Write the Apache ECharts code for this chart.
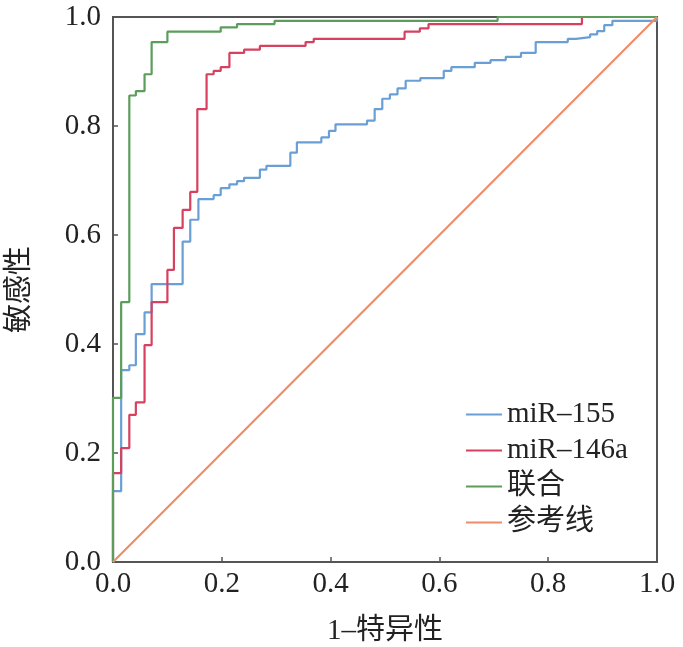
<!DOCTYPE html>
<html>
<head>
<meta charset="utf-8">
<script src="https://cdn.jsdelivr.net/npm/echarts@6/dist/echarts.min.js"></script>
<style>
        html, body { margin: 0; padding: 0; background: #fff; }
        #roc { width: 683px; height: 647px; }
</style>
</head>
<body>
<div id="roc"></div>
<script>
// ROC 曲线数据：每个点是竖直上升段的顶端 (1-特异性, 敏感性)
var seriesNames = ['miR–155', 'miR–146a', '联合', '参考线'];

var mir155X = [0, 0, 0.015, 0.030, 0.042, 0.058, 0.071, 0.128, 0.142, 0.157, 0.185, 0.198, 0.214, 0.228, 0.241, 0.270, 0.282, 0.326, 0.338, 0.383, 0.397, 0.409, 0.467, 0.481, 0.495, 0.509, 0.523, 0.538, 0.565, 0.608, 0.622, 0.665, 0.694, 0.722, 0.750, 0.777, 0.836, 0.851, 0.877, 0.890, 0.903, 0.918, 1];
var mir155Y = [0, 0.130, 0.352, 0.361, 0.418, 0.458, 0.510, 0.588, 0.628, 0.666, 0.673, 0.686, 0.693, 0.699, 0.705, 0.720, 0.727, 0.751, 0.770, 0.779, 0.791, 0.803, 0.810, 0.831, 0.850, 0.858, 0.869, 0.883, 0.888, 0.901, 0.908, 0.916, 0.921, 0.927, 0.934, 0.954, 0.960, 0.963, 0.968, 0.974, 0.985, 0.993, 1];

var mir146X = [0, 0, 0.015, 0.030, 0.042, 0.058, 0.071, 0.100, 0.112, 0.128, 0.142, 0.155, 0.172, 0.185, 0.198, 0.214, 0.241, 0.270, 0.354, 0.369, 0.536, 0.564, 0.580, 0.862, 1];
var mir146Y = [0, 0.163, 0.209, 0.270, 0.293, 0.398, 0.477, 0.536, 0.613, 0.646, 0.679, 0.831, 0.895, 0.901, 0.908, 0.934, 0.940, 0.947, 0.954, 0.960, 0.973, 0.979, 0.987, 1, 1];

var unionX = [0, 0, 0.015, 0.030, 0.042, 0.058, 0.071, 0.100, 0.198, 0.228, 0.297, 0.707, 1];
var unionY = [0, 0.301, 0.477, 0.856, 0.864, 0.895, 0.954, 0.973, 0.981, 0.987, 0.993, 1, 1];

var refX = [0, 1];
var refY = [0, 1];

var tickLabels = ['0.0', '0.2', '0.4', '0.6', '0.8', '1.0'];

function pairs(xs, ys) {
        var out = [];
        for (var i = 0; i < xs.length; i++) {
                out.push([xs[i], ys[i]]);
        }
        return out;
}

var serif = '"Liberation Serif", "Noto Sans CJK SC", serif';
var axisColor = '#555';

function axisOpt(name, gap, rotate, margin) {
        return {
                type: 'value',
                min: 0,
                max: 1,
                interval: 0.2,
                name: name,
                nameLocation: 'middle',
                nameGap: gap,
                nameRotate: rotate,
                nameTextStyle: { fontFamily: serif, fontSize: 29, color: '#222' },
                axisLine: { show: true, lineStyle: { color: axisColor, width: 2 } },
                axisTick: { show: true, inside: true, length: 5, lineStyle: { color: axisColor, width: 1.5 } },
                axisLabel: {
                        fontFamily: serif,
                        fontSize: 29,
                        color: '#222',
                        margin: margin,
                        formatter: function (v) { return tickLabels[Math.round(v / 0.2)]; }
                },
                splitLine: { show: false }
        };
}

var colors = ['#6a9fd6', '#d7415f', '#5c9d5c', '#ef8d68'];

var option = {
        animation: false,
        color: colors,
        grid: {
                left: 113,
                right: 26,
                top: 17,
                bottom: 85,
                outerBoundsMode: 'none',
                containLabel: false,
                show: true,
                borderColor: axisColor,
                borderWidth: 2
        },
        legend: {
                orient: 'vertical',
                left: 461,
                top: 395,
                icon: 'rect',
                itemWidth: 36,
                itemHeight: 2,
                itemGap: 7,
                textStyle: { fontFamily: serif, fontSize: 29, color: '#222' },
                data: seriesNames
        },
        xAxis: axisOpt('1–特异性', 55, 0, 8),
        yAxis: axisOpt('敏感性', 78, 90, 12),
        series: [
                { name: seriesNames[0], type: 'line', step: 'end', showSymbol: false, symbol: 'none',
                  lineStyle: { width: 2.2 }, data: pairs(mir155X, mir155Y) },
                { name: seriesNames[1], type: 'line', step: 'end', showSymbol: false, symbol: 'none',
                  lineStyle: { width: 2.2 }, data: pairs(mir146X, mir146Y) },
                { name: seriesNames[2], type: 'line', step: 'end', showSymbol: false, symbol: 'none',
                  lineStyle: { width: 2.2 }, data: pairs(unionX, unionY) },
                { name: seriesNames[3], type: 'line', showSymbol: false, symbol: 'none',
                  lineStyle: { width: 2.2 }, data: pairs(refX, refY) }
        ]
};

var roc = echarts.init(document.getElementById('roc'));
roc.setOption(option);
</script>
</body>
</html>
